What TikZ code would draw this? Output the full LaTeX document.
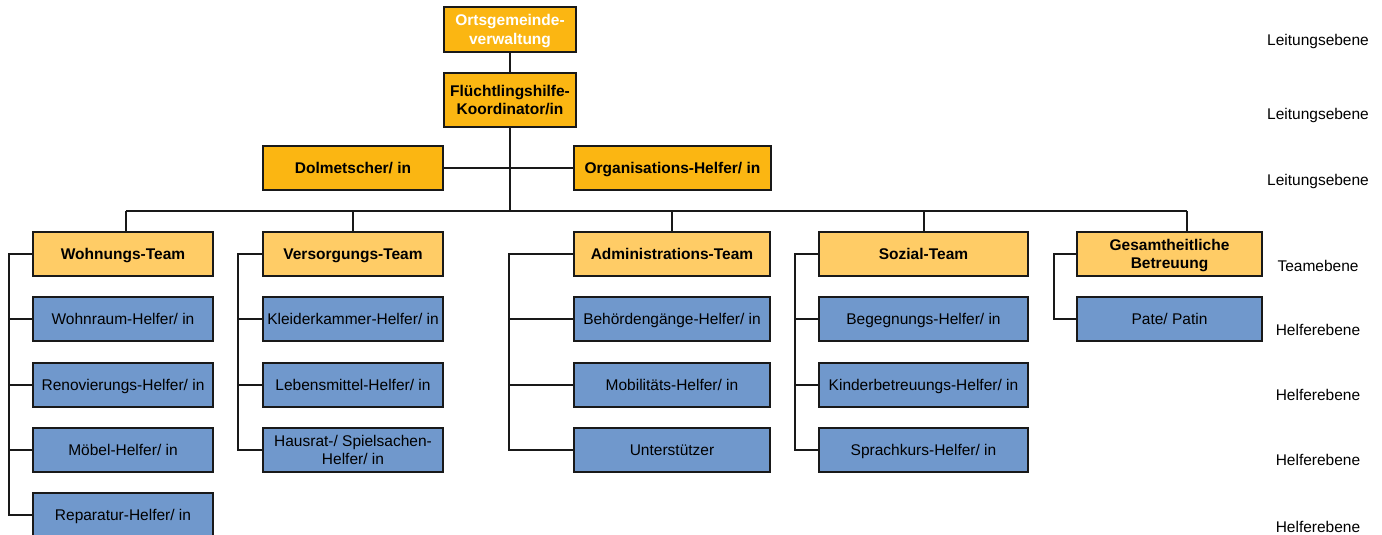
\documentclass[tikz,border=0pt]{standalone}
\usepackage{fontspec}
\setmainfont{Liberation Sans}
\definecolor{leit}{RGB}{251,182,18}
\definecolor{team}{RGB}{255,204,102}
\definecolor{helf}{RGB}{112,152,204}
\definecolor{edge}{RGB}{25,25,25}
\begin{document}
\begin{tikzpicture}[x=1pt,y=-1pt,
  box/.style={rectangle,draw=edge,line width=2pt,inner sep=0pt,align=center,text depth=0pt,
    font=\fontsize{15.5}{18.5}\selectfont},
  leitbox/.style={box,fill=leit,font=\fontsize{15.5}{18.5}\selectfont\bfseries},
  teambox/.style={box,fill=team,font=\fontsize{15.5}{18.5}\selectfont\bfseries},
  helfbox/.style={box,fill=helf},
  conn/.style={draw=edge,line width=2pt},
  lvl/.style={font=\fontsize{15.5}{18.5}\selectfont,inner sep=0pt}]
\useasboundingbox (0,0) rectangle (1382,535);

% top level
\node[leitbox,text=white,minimum width=132pt,minimum height=45pt] (og) at (510,29.5) {Ortsgemeinde-\\verwaltung};
\node[leitbox,minimum width=132pt,minimum height=54pt] (ko) at (510,100) {Flüchtlingshilfe-\\Koordinator/in};
\node[leitbox,minimum width=180pt,minimum height=44pt] (do) at (353,168) {Dolmetscher/ in};
\node[leitbox,minimum width=197pt,minimum height=44pt] (or) at (672.5,168) {Organisations-Helfer/ in};

% teams
\node[teambox,minimum width=180pt,minimum height=44pt] (wt) at (123,254) {Wohnungs-Team};
\node[teambox,minimum width=180pt,minimum height=44pt] (vt) at (353,254) {Versorgungs-Team};
\node[teambox,minimum width=196pt,minimum height=44pt] (at) at (672,254) {Administrations-Team};
\node[teambox,minimum width=209pt,minimum height=44pt] (st) at (923.5,254) {Sozial-Team};
\node[teambox,minimum width=185pt,minimum height=44pt] (gt) at (1169.5,254) {Gesamtheitliche\\Betreuung};

% helpers: Wohnungs
\node[helfbox,minimum width=180pt,minimum height=44pt] (w1) at (123,319) {Wohnraum-Helfer/ in};
\node[helfbox,minimum width=180pt,minimum height=44pt] (w2) at (123,384.5) {Renovierungs-Helfer/ in};
\node[helfbox,minimum width=180pt,minimum height=44pt] (w3) at (123,450) {Möbel-Helfer/ in};
\node[helfbox,minimum width=180pt,minimum height=44pt] (w4) at (123,515) {Reparatur-Helfer/ in};
% Versorgungs
\node[helfbox,minimum width=180pt,minimum height=44pt] (v1) at (353,319) {Kleiderkammer-Helfer/ in};
\node[helfbox,minimum width=180pt,minimum height=44pt] (v2) at (353,384.5) {Lebensmittel-Helfer/ in};
\node[helfbox,minimum width=180pt,minimum height=44pt] (v3) at (353,450) {Hausrat-/ Spielsachen-\\Helfer/ in};
% Administrations
\node[helfbox,minimum width=196pt,minimum height=44pt] (a1) at (672,319) {Behördengänge-Helfer/ in};
\node[helfbox,minimum width=196pt,minimum height=44pt] (a2) at (672,384.5) {Mobilitäts-Helfer/ in};
\node[helfbox,minimum width=196pt,minimum height=44pt] (a3) at (672,450) {Unterstützer};
% Sozial
\node[helfbox,minimum width=209pt,minimum height=44pt] (s1) at (923.5,319) {Begegnungs-Helfer/ in};
\node[helfbox,minimum width=209pt,minimum height=44pt] (s2) at (923.5,384.5) {Kinderbetreuungs-Helfer/ in};
\node[helfbox,minimum width=209pt,minimum height=44pt] (s3) at (923.5,450) {Sprachkurs-Helfer/ in};
% Gesamtheitliche
\node[helfbox,minimum width=185pt,minimum height=44pt] (g1) at (1169.5,319) {Pate/ Patin};

% level labels
\node[lvl] (l1) at (1318,41) {Leitungsebene};
\node[lvl] (l2) at (1318,115) {Leitungsebene};
\node[lvl] (l3) at (1318,181) {Leitungsebene};
\node[lvl] (l4) at (1318,266) {Teamebene};
\node[lvl] (l5) at (1318,330) {Helferebene};
\node[lvl] (l6) at (1318,395) {Helferebene};
\node[lvl] (l7) at (1318,460) {Helferebene};
\node[lvl] (l8) at (1318,527) {Helferebene};

% connectors
\coordinate (busL) at (126,211);
\coordinate (busR) at (1187,211);
\coordinate (wb) at (9,0);
\coordinate (vb) at (238,0);
\coordinate (ab) at (509,0);
\coordinate (sb) at (795,0);
\coordinate (gb) at (1054,0);

\draw[conn] (og.south) -- (ko.north);
\draw[conn] (ko.south) -- (ko.south |- busL);
\draw[conn] (do.east) -- (or.west);
\draw[conn] (busL) -- (busR);
\draw[conn] (busL) -- (busL |- wt.north);
\draw[conn] (vt.north |- busL) -- (vt.north);
\draw[conn] (at.north |- busL) -- (at.north);
\draw[conn] (st.north |- busL) -- (st.north);
\draw[conn] (busR) -- (busR |- gt.north);

\draw[conn] (wt.west) -- (wt.west -| wb) |- (w4.west);
\draw[conn] (w1.west) -- (w1.west -| wb);
\draw[conn] (w2.west) -- (w2.west -| wb);
\draw[conn] (w3.west) -- (w3.west -| wb);

\draw[conn] (vt.west) -- (vt.west -| vb) |- (v3.west);
\draw[conn] (v1.west) -- (v1.west -| vb);
\draw[conn] (v2.west) -- (v2.west -| vb);

\draw[conn] (at.west) -- (at.west -| ab) |- (a3.west);
\draw[conn] (a1.west) -- (a1.west -| ab);
\draw[conn] (a2.west) -- (a2.west -| ab);

\draw[conn] (st.west) -- (st.west -| sb) |- (s3.west);
\draw[conn] (s1.west) -- (s1.west -| sb);
\draw[conn] (s2.west) -- (s2.west -| sb);

\draw[conn] (gt.west) -- (gt.west -| gb) |- (g1.west);
\end{tikzpicture}
\end{document}
